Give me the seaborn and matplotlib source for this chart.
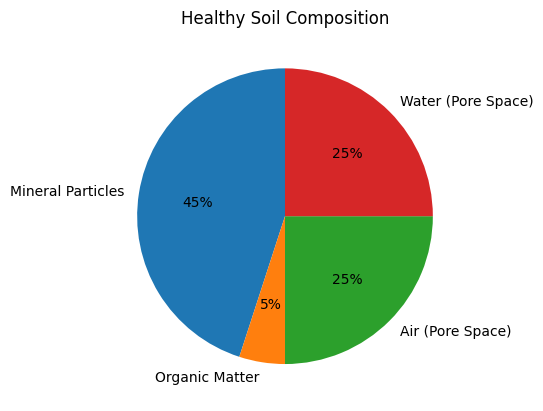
import matplotlib
matplotlib.use("Agg")
import matplotlib.pyplot as plt
import seaborn as sns

# soil composition shares
components = ["Mineral Particles", "Organic Matter", "Air (Pore Space)", "Water (Pore Space)"]
shares = [45, 5, 25, 25]

colors = sns.color_palette("tab10", len(components))

fig, ax = plt.subplots(figsize=(6.4, 4.8), dpi=100)
ax.pie(shares, labels=components, colors=colors, autopct="%1.0f%%", startangle=90)
ax.set_title("Healthy Soil Composition")

fig.savefig("out.png", dpi=100, bbox_inches="tight")
